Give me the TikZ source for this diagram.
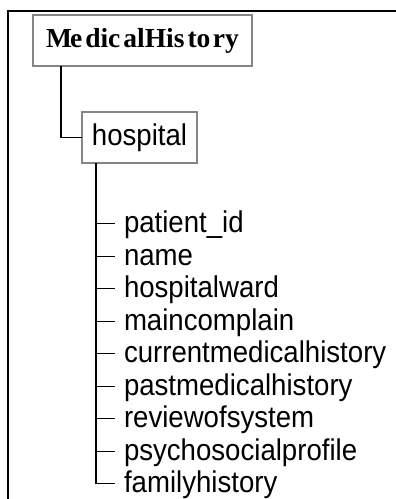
\documentclass[tikz,border=0pt]{standalone}
\usepackage{fontspec}
\setmainfont[FakeStretch=0.92]{Liberation Sans}
\newfontfamily\titlefont{Liberation Serif}
\definecolor{boxgray}{HTML}{858585}
\begin{document}
\begin{tikzpicture}[x=1pt,y=-1pt,
  box/.style={draw=boxgray, line width=1.5pt, outer sep=0pt, inner sep=0pt,
    minimum height=51pt, font=\fontsize{30}{32}\selectfont},
  leaf/.style={anchor=base west, inner sep=0pt, outer sep=0pt,
    font=\fontsize{30}{32}\selectfont},
  wire/.style={line width=1.4pt, black}]
\useasboundingbox (0,0) rectangle (396,499);

% frame running off the page at right and bottom
\draw[line width=2pt] (7.5,499) -- (7.5,10.5) -- (396,10.5);

% root and child element boxes
\node[box, minimum width=219pt, font=\titlefont\bfseries\fontsize{27.5}{32}\selectfont]
  (mh) at (142.5,40.5) {M\kern-2pt e\kern3pt dic\kern3pt alHis\kern3pt to\kern2.5pt ry};
\node[box, minimum width=115pt] (hosp) at (139.5,137.5) {hospital};

\draw[wire] ([xshift=28pt]mh.south west) |- (hosp.west);

% attribute list
\coordinate (tr) at ([xshift=14pt]hosp.south west);
\foreach \txt [count=\i] in {patient\_id,name,hospitalward,maincomplain,
    currentmedicalhistory,pastmedicalhistory,reviewofsystem,
    psychosocialprofile,familyhistory}
  \node[leaf] (l\i) at (124,{232.5+(\i-1)*32.5}) {\txt};

% tick ends sit at mid x-height, just left of each label
\foreach \i in {1,...,9}
  \coordinate (t\i) at ([xshift=-9pt,yshift=8.8pt]l\i.base west);
\foreach \i in {1,...,8}
  \draw[wire] (tr |- t\i) -- (t\i);
\draw[wire] (tr) |- (t9);
\end{tikzpicture}
\end{document}
